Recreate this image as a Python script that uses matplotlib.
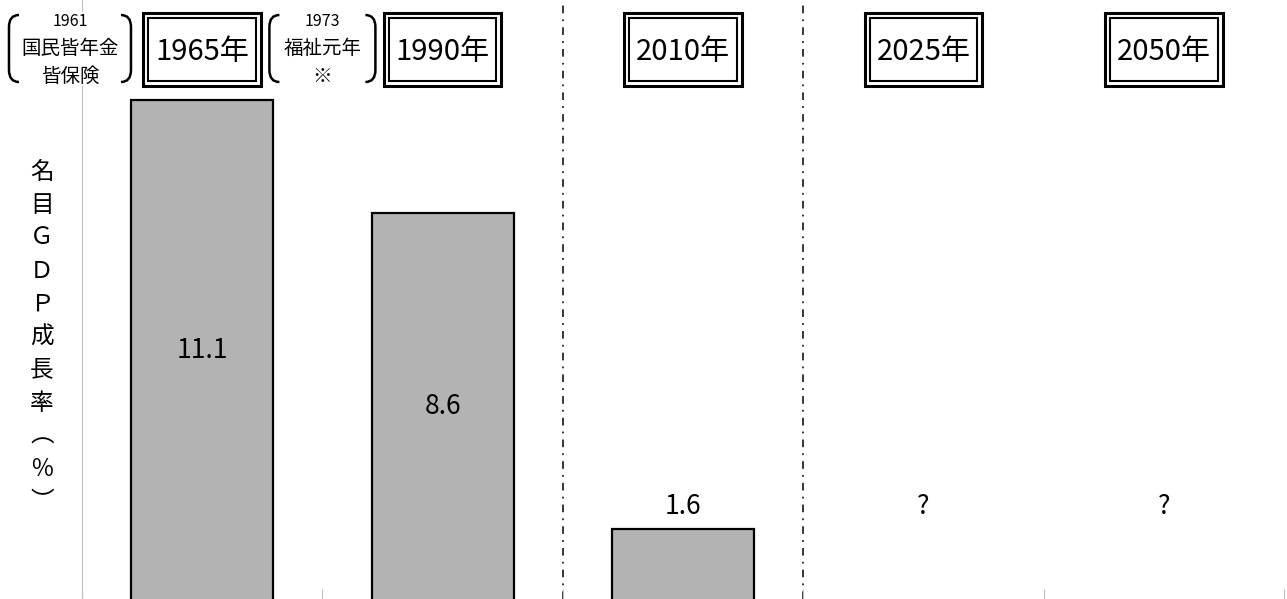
import matplotlib
matplotlib.use('Agg')
import matplotlib.pyplot as plt
import matplotlib.transforms as mtransforms
from matplotlib.patches import Rectangle, PathPatch
from matplotlib.path import Path

# data
years = ['1965年', '1990年', '2010年', '2025年', '2050年']
growth = [11.1, 8.6, 1.6, None, None]          # nominal GDP growth (%)
value_labels = ['11.1', '8.6', '1.6', '?', '?']
ylabel_chars = ['名', '目', 'Ｇ', 'Ｄ', 'Ｐ', '成', '長', '率', '︵', '％', '︶']
notes = [('1961', '国民皆年金', '皆保険'), ('1973', '福祉元年', '※')]
note_x = [-0.55, 0.5]          # category position of each note
note_halfwidth = [61, 53]      # pixels
era_breaks = [1.5, 2.5]

plt.rcParams['font.family'] = ['Noto Sans CJK JP', 'DejaVu Sans']

W, H = 1287, 599
fig = plt.figure(figsize=(W / 100.0, H / 100.0), dpi=100)
ax = fig.add_axes([82.0 / W, 0, (1284.0 - 82.0) / W, 1])
ax.set_xlim(-0.5, len(years) - 0.5)
ax.set_ylim(0.04, 13.31)

# pixel coords measured from the top-left corner
pix = mtransforms.Affine2D().scale(1.0 / W, -1.0 / H).translate(0, 1) + fig.transFigure
# x in data, y in pixels from the top
xpix = mtransforms.blended_transform_factory(ax.transData, pix)

gray = '#b3b3b3'
for i, v in enumerate(growth):
    if v is None:
        continue
    ax.bar(i, v, width=0.59, color=gray, edgecolor='black', linewidth=1.6, zorder=3)

for i, lab in enumerate(value_labels):
    v = growth[i]
    if v is not None and v > 5:
        ax.text(i, v / 2.0, lab, ha='center', va='center', fontsize=19, zorder=6)
    else:
        y = v if v is not None else 1.6
        ax.annotate(lab, (i, y), xytext=(0, 16), textcoords='offset points',
                    ha='center', va='center', fontsize=19, zorder=6)

for b in era_breaks:
    ax.axvline(b, color='black', lw=1.1, linestyle=(0, (5, 4, 1.2, 4)), zorder=1)

# axes styling
for s in ['top', 'right', 'bottom']:
    ax.spines[s].set_visible(False)
ax.spines['left'].set_color('#bfbfbf')
ax.set_yticks([])
ax.set_xticks([i - 0.5 for i in range(len(years) + 1)])
ax.tick_params(axis='x', direction='in', length=7, color='#bfbfbf', labelbottom=False)

# year boxes with double border
bw = 0.49
dx = 5.0 / 240
for i, yr in enumerate(years):
    ax.add_patch(Rectangle((i - bw / 2, 13), bw, 73, transform=xpix, fill=False,
                           edgecolor='black', lw=2.2, clip_on=False, zorder=5))
    ax.add_patch(Rectangle((i - bw / 2 + dx, 18), bw - 2 * dx, 63, transform=xpix, fill=False,
                           edgecolor='black', lw=1.5, clip_on=False, zorder=5))
    ax.text(i, 52, yr, transform=xpix, ha='center', va='center', fontsize=21, zorder=6)

# bracketed notes
def bracket(x0, x1, top, bot, r=12):
    verts = [(x1, top), (x0, top), (x0, top + r), (x0, bot - r), (x0, bot), (x1, bot)]
    codes = [Path.MOVETO, Path.CURVE3, Path.CURVE3, Path.LINETO, Path.CURVE3, Path.CURVE3]
    return PathPatch(Path(verts, codes), fill=False, edgecolor='black', lw=1.8,
                     transform=pix, clip_on=False, zorder=6)

for lines, xd, hw in zip(notes, note_x, note_halfwidth):
    cx = ax.transData.transform((xd, 0))[0] * W / fig.bbox.width
    ax.add_patch(Rectangle((cx - hw, 12), 2 * hw, 74, transform=pix, facecolor='white',
                           edgecolor='none', clip_on=False, zorder=4))
    ax.add_patch(bracket(cx - hw, cx - hw + 10, 15, 82))
    ax.add_patch(bracket(cx + hw, cx + hw - 10, 15, 82))
    ax.text(cx, 22, lines[0], transform=pix, ha='center', va='center', fontsize=11.5, zorder=6)
    ax.text(cx, 48, lines[1], transform=pix, ha='center', va='center', fontsize=14, zorder=6)
    ax.text(cx, 76, lines[2], transform=pix, ha='center', va='center', fontsize=14, zorder=6)

# vertical y label, one character per line
for k, ch in enumerate(ylabel_chars):
    fig.text(42.0 / W, 1 - (172 + 33 * k) / float(H), ch, ha='center', va='center', fontsize=17)

fig.savefig('out.png', dpi=100)
